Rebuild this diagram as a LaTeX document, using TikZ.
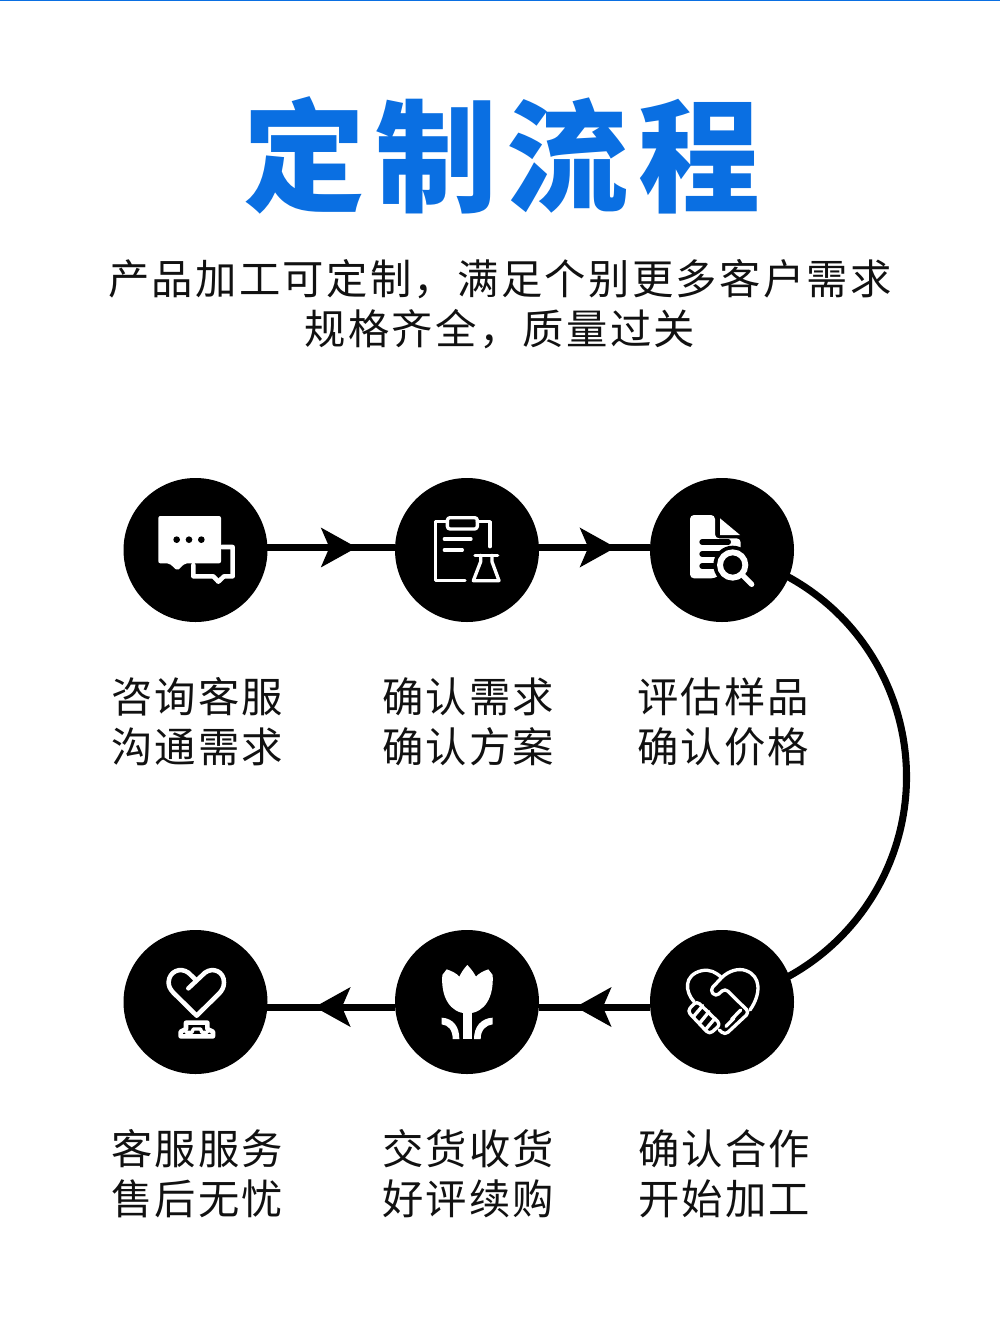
\documentclass[tikz,border=0pt]{standalone}
\usepackage{fontspec}
\usetikzlibrary{arrows.meta,decorations.markings}
\newfontfamily\cjkfont[LetterSpace=5.6]{Noto Sans CJK SC}
\newfontfamily\cjkcap[LetterSpace=5.2]{Noto Sans CJK SC}
\newfontfamily\cjktitle[LetterSpace=8]{Noto Sans CJK SC}
\definecolor{brandblue}{HTML}{0A6FE2}
\definecolor{inkblack}{HTML}{111111}
\tikzset{
  disc/.style={circle,fill=black,minimum size=108pt,inner sep=0pt,outer sep=0pt},
  stepcap/.style={text=inkblack,align=left,inner sep=0pt,font=\cjkcap\fontsize{31}{37.5}\selectfont},
  flowline/.style={draw=black,line width=5.2pt},
  flowtip/.style={postaction={decorate,decoration={markings,mark=at position #1 with {\arrow{Stealth[length=27pt,width=30pt,inset=6.5pt,line width=0pt]}}}}},
  iconline/.style={draw=white,line width=3.4pt,line join=round,line cap=round,fill=none},
  thinline/.style={draw=white,line width=2.5pt,line join=round,line cap=round,fill=none},
  zoomA/.style={shift={(120,470)},x=0.25pt,y=-0.25pt},
  zoomB/.style={shift={(390,470)},x=0.25pt,y=-0.25pt},
  zoomC/.style={shift={(120,925)},x=0.25pt,y=-0.25pt},
  zoomD/.style={shift={(390,925)},x=0.25pt,y=-0.25pt},
  zoomE/.style={shift={(670,955)},x=0.25pt,y=-0.25pt},
}
\begin{document}
\begin{tikzpicture}[x=0.75pt,y=-0.75pt]
\useasboundingbox (0,0) rectangle (1000,1320);
\fill[white] (0,0) rectangle (1000,1320);
\fill[brandblue] (0,0) rectangle (1000,1.5);

\node[text=brandblue,inner sep=0pt,font=\cjktitle\bfseries\fontsize{91.5}{110}\selectfont] (title) at (502,155) {定制流程};
\node[text=inkblack,align=center,inner sep=0pt,font=\cjkfont\fontsize{31}{37.5}\selectfont] (sub) at (500,304) {产品加工可定制，满足个别更多客户需求\\规格齐全，质量过关};

% discs
\node[disc] (c1) at (195.5,550) {};
\node[disc] (c2) at (467,550) {};
\node[disc] (c3) at (722,550) {};
\node[disc] (c4) at (722,1002) {};
\node[disc] (c5) at (467,1002) {};
\node[disc] (c6) at (195.5,1002) {};

% connectors
\draw[flowline,flowtip=0.70] (c1.2) -- (c2.178);
\draw[flowline,flowtip=0.69] (c2.2) -- (c3.178);
\draw[line width=5.3pt,line cap=round] ([shift={(-3,0)}]c3.-21) arc[start angle=61.8,end angle=-61.8,radius=171pt];
\draw[flowline,flowtip=0.67] (c4.184.5) -- (c5.-4.5);
\draw[flowline,flowtip=0.63] (c5.184.5) -- (c6.-4.5);

% icon 1: chat
\begin{scope}[zoomA]
\fill[white,rounded corners=1.5pt] (115,138) -- (303,138) -- (303,280) -- (195,280) -- (172,302) -- (148,280) -- (115,280) -- cycle;
\fill[black] (170,209) circle (10) (207,209) circle (10) (244,209) circle (10);
\draw[iconline] (305,231) -- (338,231) -- (338,319) -- (312,319) -- (295,335) -- (280,319) -- (220,319) -- (220,285);
\end{scope}

% icon 2: clipboard and flask
\begin{scope}[zoomB]
\draw[thinline] (300,230) -- (300,155) -- (262,155);
\draw[thinline] (172,155) -- (137,155) -- (137,332) -- (225,332);
\draw[thinline,rounded corners=2pt] (172,143) rectangle (262,177);
\draw[thinline] (163,207) -- (243,207);
\draw[thinline] (163,240) -- (217,240);
\draw[thinline] (255,256) -- (323,256);
\draw[thinline] (272,256) -- (272,275) -- (250,332) -- (327,332) -- (306,275) -- (306,256);
\end{scope}

% icon 3: document and magnifier
\begin{scope}[zoomB]
\fill[white,rounded corners=3pt] (900,135) -- (975,135) -- (975,205) -- (1052,205) -- (1052,270) -- (975,325) -- (900,325) -- cycle;
\fill[white] (990,145) -- (1050,195) -- (990,195) -- cycle;
\draw[black,line width=4pt,line cap=round] (936,216) -- (1015,216);
\draw[black,line width=4pt,line cap=round] (936,252) -- (990,252);
\draw[black,line width=4pt,line cap=round] (936,288) -- (990,288);
\fill[black] (1028,285) circle (58);
\draw[white,line width=4.4pt] (1028,285) circle (38);
\draw[white,line width=4pt,line cap=round] (1060,318) -- (1085,343);
\end{scope}

% icon 4: handshake heart
\begin{scope}[zoomE]
\draw[thinline] (72,140) .. controls (45,110) and (40,60) .. (95,47) .. controls (120,42) and (138,52) .. (155,68);
\draw[thinline] (155,68) .. controls (175,48) and (205,38) .. (228,47) .. controls (272,62) and (275,115) .. (240,165);
\draw[thinline,rounded corners=3pt] (155,68) -- (120,105) -- (137,125) -- (165,100) -- (238,172) -- (165,240) -- (148,225);
\draw[thinline,rounded corners=3pt] (80,138) -- (152,208) -- (118,238) -- (52,168) -- cycle;
\draw[thinline] (98,152) -- (72,183);
\draw[thinline] (117,170) -- (90,203);
\draw[thinline] (135,190) -- (108,222);
\draw[thinline] (212,165) -- (185,193);
\draw[thinline] (192,190) -- (168,214);
\end{scope}

% icon 5: tulip
\begin{scope}[zoomD]
\fill[white] (157,150) -- (170,133) .. controls (185,138) and (200,145) .. (208,155) .. controls (215,140) and (224,128) .. (232,120) .. controls (240,128) and (250,140) .. (258,155) .. controls (266,145) and (280,138) .. (295,133) -- (308,150) .. controls (312,215) and (285,265) .. (232,265) .. controls (180,265) and (152,215) .. (157,150) -- cycle;
\fill[white] (220,260) rectangle (245,342);
\fill[white] (155,278) .. controls (190,280) and (208,305) .. (208,342) -- (188,342) .. controls (188,315) and (175,300) .. (155,298) -- cycle;
\fill[white] (308,278) .. controls (273,280) and (252,305) .. (252,342) -- (272,342) .. controls (272,315) and (288,300) .. (308,298) -- cycle;
\end{scope}

% icon 6: heart and telephone
\begin{scope}[zoomC]
\draw[iconline] (205,190) -- (255,143) .. controls (280,125) and (312,140) .. (312,172) .. controls (312,188) and (305,197) .. (298,205) -- (230,272) -- (160,203) .. controls (150,192) and (145,182) .. (146,170) .. controls (148,140) and (180,125) .. (205,143) -- (228,165);
\draw[iconline] (198,312) -- (198,293) -- (262,293) -- (262,312) -- (279,320) -- (279,334) -- (182,334) -- (182,320) -- (198,312);
\draw[thinline] (198,322) -- (216,322) -- (220,312) -- (242,312) -- (245,322) -- (262,322);
\end{scope}

% captions
\node[stepcap] (t1) at (197,722) {咨询客服\\沟通需求};
\node[stepcap] (t2) at (468,722) {确认需求\\确认方案};
\node[stepcap] (t3) at (723,722) {评估样品\\确认价格};
\node[stepcap] (t4) at (197,1174) {客服服务\\售后无忧};
\node[stepcap] (t5) at (468,1174) {交货收货\\好评续购};
\node[stepcap] (t6) at (724,1174) {确认合作\\开始加工};
\end{tikzpicture}
\end{document}
